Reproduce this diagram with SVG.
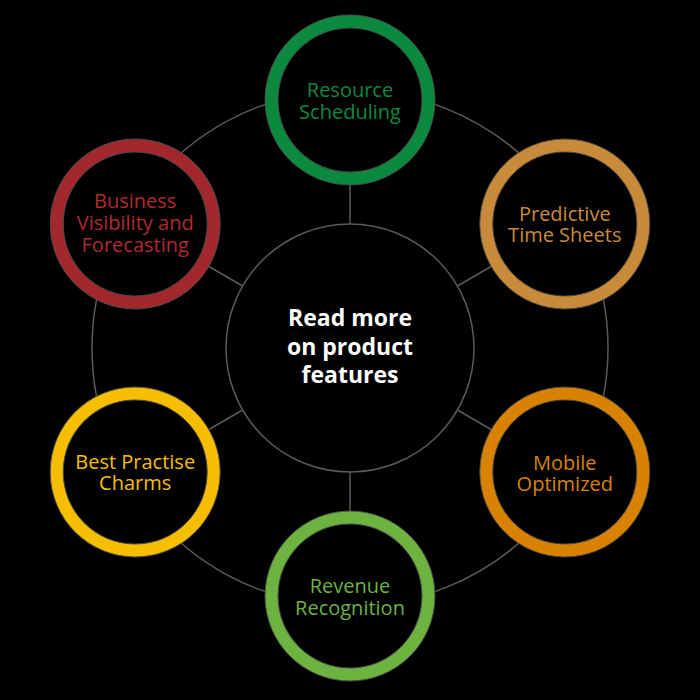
<svg xmlns="http://www.w3.org/2000/svg" width="700" height="700" viewBox="0 0 700 700">
<style>
.line{fill:none;stroke:#5a5a5a;stroke-width:1.5}
.ring{fill:#000;stroke-width:13}
.edge{fill:none;stroke:#4a4a4a;stroke-width:1}
.lbl{font-family:"Open Sans","Noto Sans","Liberation Sans",sans-serif;font-size:20px;text-anchor:middle}
.ctr{font-family:"Open Sans","Noto Sans","Liberation Sans",sans-serif;font-size:23px;font-weight:bold;fill:#fff;text-anchor:middle}
</style>
<rect width="700" height="700" fill="#000"/>
<g id="connectors">
<circle class="line" cx="350" cy="348" r="258"/>
<line class="line" x1="350" y1="224" x2="350" y2="178"/>
<line class="line" x1="457.4" y1="286" x2="497.2" y2="263"/>
<line class="line" x1="457.4" y1="410" x2="497.2" y2="433"/>
<line class="line" x1="350" y1="472" x2="350" y2="518"/>
<line class="line" x1="242.6" y1="410" x2="202.8" y2="433"/>
<line class="line" x1="242.6" y1="286" x2="202.8" y2="263"/>
</g>
<g id="center">
<circle cx="350" cy="348" r="124" fill="#000" stroke="#5a5a5a" stroke-width="1.5"/>
<text class="ctr" x="350" y="326">Read more</text>
<text class="ctr" x="350" y="355">on product</text>
<text class="ctr" x="350" y="383">features</text>
</g>
<g id="resource-scheduling">
<circle class="ring" cx="350" cy="100" r="78.5" stroke="#0b8a3f"/>
<circle class="edge" cx="350" cy="100" r="85"/>
<circle class="edge" cx="350" cy="100" r="72"/>
<text class="lbl" fill="#0b8a3f" x="350" y="97">Resource</text>
<text class="lbl" fill="#0b8a3f" x="350" y="119">Scheduling</text>
</g>
<g id="predictive-time-sheets">
<circle class="ring" cx="564.8" cy="224" r="78.5" stroke="#c98a3a"/>
<circle class="edge" cx="564.8" cy="224" r="85"/>
<circle class="edge" cx="564.8" cy="224" r="72"/>
<text class="lbl" fill="#c98a3a" x="564.8" y="221">Predictive</text>
<text class="lbl" fill="#c98a3a" x="564.8" y="242">Time Sheets</text>
</g>
<g id="mobile-optimized">
<circle class="ring" cx="564.8" cy="472" r="78.5" stroke="#d98200"/>
<circle class="edge" cx="564.8" cy="472" r="85"/>
<circle class="edge" cx="564.8" cy="472" r="72"/>
<text class="lbl" fill="#d98200" x="564.8" y="470">Mobile</text>
<text class="lbl" fill="#d98200" x="564.8" y="491">Optimized</text>
</g>
<g id="revenue-recognition">
<circle class="ring" cx="350" cy="596" r="78.5" stroke="#6cb33f"/>
<circle class="edge" cx="350" cy="596" r="85"/>
<circle class="edge" cx="350" cy="596" r="72"/>
<text class="lbl" fill="#6cb33f" x="350" y="593">Revenue</text>
<text class="lbl" fill="#6cb33f" x="350" y="615">Recognition</text>
</g>
<g id="best-practise-charms">
<circle class="ring" cx="135.2" cy="472" r="78.5" stroke="#f7be00"/>
<circle class="edge" cx="135.2" cy="472" r="85"/>
<circle class="edge" cx="135.2" cy="472" r="72"/>
<text class="lbl" fill="#f7be00" x="135.2" y="469">Best Practise</text>
<text class="lbl" fill="#f7be00" x="135.2" y="490">Charms</text>
</g>
<g id="business-visibility">
<circle class="ring" cx="135.2" cy="224" r="78.5" stroke="#a3282e"/>
<circle class="edge" cx="135.2" cy="224" r="85"/>
<circle class="edge" cx="135.2" cy="224" r="72"/>
<text class="lbl" fill="#b02a31" x="135.2" y="208">Business</text>
<text class="lbl" fill="#b02a31" x="135.2" y="230">Visibility and</text>
<text class="lbl" fill="#b02a31" x="135.2" y="252">Forecasting</text>
</g>
</svg>
